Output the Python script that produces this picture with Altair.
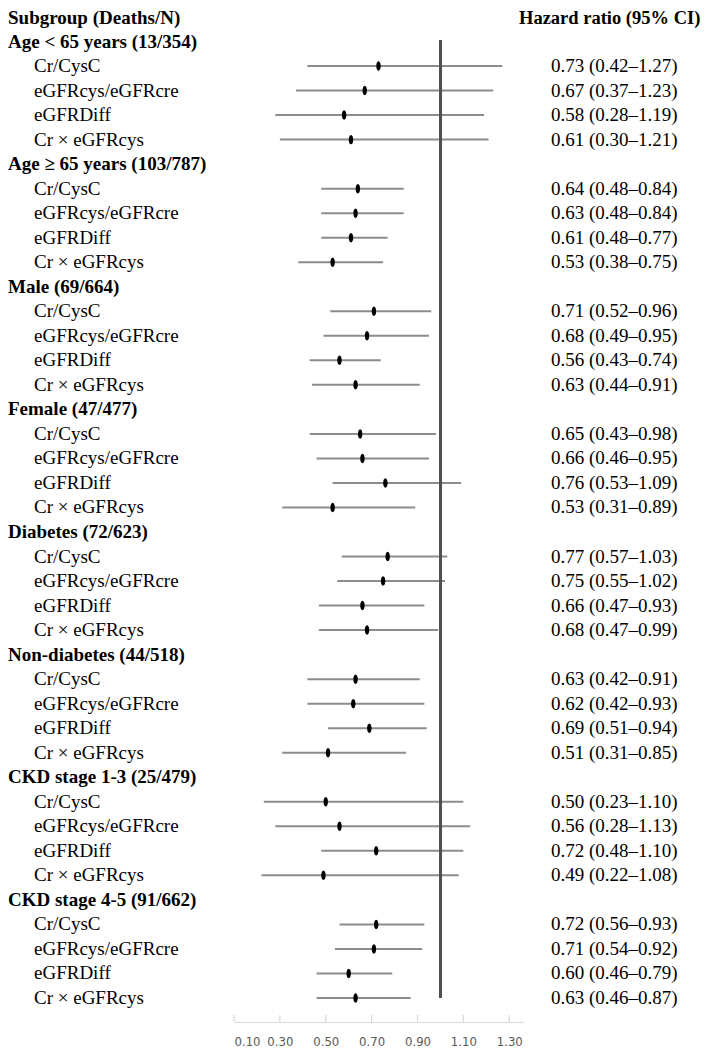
import altair as alt
import pandas as pd

groups = [
    "Age < 65 years (13/354)",
    "Age \u2265 65 years (103/787)",
    "Male (69/664)",
    "Female (47/477)",
    "Diabetes (72/623)",
    "Non-diabetes (44/518)",
    "CKD stage 1-3 (25/479)",
    "CKD stage 4-5 (91/662)",
]
methods = ["Cr/CysC", "eGFRcys/eGFRcre", "eGFRDiff", "Cr \u00d7 eGFRcys"]

hr = [
    [0.73, 0.67, 0.58, 0.61],
    [0.64, 0.63, 0.61, 0.53],
    [0.71, 0.68, 0.56, 0.63],
    [0.65, 0.66, 0.76, 0.53],
    [0.77, 0.75, 0.66, 0.68],
    [0.63, 0.62, 0.69, 0.51],
    [0.50, 0.56, 0.72, 0.49],
    [0.72, 0.71, 0.60, 0.63],
]
lo = [
    [0.42, 0.37, 0.28, 0.30],
    [0.48, 0.48, 0.48, 0.38],
    [0.52, 0.49, 0.43, 0.44],
    [0.43, 0.46, 0.53, 0.31],
    [0.57, 0.55, 0.47, 0.47],
    [0.42, 0.42, 0.51, 0.31],
    [0.23, 0.28, 0.48, 0.22],
    [0.56, 0.54, 0.46, 0.46],
]
hi = [
    [1.27, 1.23, 1.19, 1.21],
    [0.84, 0.84, 0.77, 0.75],
    [0.96, 0.95, 0.74, 0.91],
    [0.98, 0.95, 1.09, 0.89],
    [1.03, 1.02, 0.93, 0.99],
    [0.91, 0.93, 0.94, 0.85],
    [1.10, 1.13, 1.10, 1.08],
    [0.93, 0.92, 0.79, 0.87],
]
x_ticks = [0.10, 0.30, 0.50, 0.70, 0.90, 1.10, 1.30]
left_header = "Subgroup (Deaths/N)"
right_header = "Hazard ratio (95% CI)"
ref_value = 1.0

# build tables
heads = []
recs = []
r = 1
for gi, g in enumerate(groups):
    heads.append({"row": r, "label": g})
    for mi, m in enumerate(methods):
        recs.append({
            "row": r + 1 + mi,
            "method": m,
            "hr": hr[gi][mi],
            "lo": lo[gi][mi],
            "hi": hi[gi][mi],
            "txt": f"{hr[gi][mi]:.2f} ({lo[gi][mi]:.2f}\u2013{hi[gi][mi]:.2f})",
        })
    r += 5
n_last = r - 1

df = pd.DataFrame(recs)
hdf = pd.DataFrame(heads)
tdf = pd.DataFrame({"t": x_ticks})
topdf = pd.DataFrame({"row": [0, 0], "label": [left_header, right_header], "side": ["l", "r"]})

W = 289
H = 1014
FONT = "Liberation Serif"
FS = 19
AXIS_FONT = "'Liberation Sans Narrow', 'DejaVu Sans Condensed', 'Liberation Sans', sans-serif"

xscale = alt.Scale(domain=[0.1, 1.36], nice=False, zero=False)
yscale = alt.Scale(domain=[-0.367, 40.98], reverse=True, nice=False, zero=False)

base = alt.Chart(df)

ci = base.mark_rule(color="#8c8c8c", strokeWidth=2).encode(
    x=alt.X("lo:Q", scale=xscale,
            axis=alt.Axis(values=x_ticks, format=".2f", title=None, grid=False,
                          ticks=False, labelPadding=13, domainColor="#d9d9d9",
                          domainWidth=1.2, labelColor="#595959",
                          labelFont=AXIS_FONT, labelFontSize=13)),
    x2="hi:Q",
    y=alt.Y("row:Q", scale=yscale, axis=None),
)

pts = base.mark_point(
    shape="M0,-1C0.62,-1 0.62,1 0,1C-0.62,1 -0.62,-1 0,-1Z",
    filled=True, color="black", opacity=1, size=90,
).encode(x="hr:Q", y="row:Q")

ref = alt.Chart(df).mark_rule(color="#505050", strokeWidth=1.5).encode(
    x=alt.datum(ref_value), y=alt.datum(0.95), y2=alt.datum(n_last)
)

ticks = alt.Chart(tdf).mark_rule(color="#d9d9d9", strokeWidth=1.2).encode(
    x="t:Q", y=alt.value(H - 7), y2=alt.value(H)
)

head_txt = alt.Chart(hdf).mark_text(
    align="left", baseline="middle", font=FONT, fontSize=FS, fontWeight="bold", color="black"
).encode(x=alt.value(-226), y="row:Q", text="label:N")

sub_txt = base.mark_text(
    align="left", baseline="middle", font=FONT, fontSize=FS, color="black"
).encode(x=alt.value(-200), y="row:Q", text="method:N")

hr_txt = base.mark_text(
    align="left", baseline="middle", font=FONT, fontSize=FS, color="black"
).encode(x=alt.value(317), y="row:Q", text="txt:N")

lh = alt.Chart(topdf[topdf.side == "l"]).mark_text(
    align="left", baseline="middle", font=FONT, fontSize=FS, fontWeight="bold", color="black", dy=1
).encode(x=alt.value(-226), y="row:Q", text="label:N")

rh = alt.Chart(topdf[topdf.side == "r"]).mark_text(
    align="left", baseline="middle", font=FONT, fontSize=18.5, fontWeight="bold", color="black", dy=1
).encode(x=alt.value(285), y="row:Q", text="label:N")

chart = alt.layer(ci, ref, pts, ticks, head_txt, sub_txt, hr_txt, lh, rh).properties(
    width=W, height=H,
    autosize=alt.AutoSizeParams(type="none"),
    padding={"left": 226, "right": 179, "top": 0, "bottom": 28},
    background="white",
).configure_view(stroke=None)

chart.save("out.html", embed_options={"renderer": "svg", "actions": False})
